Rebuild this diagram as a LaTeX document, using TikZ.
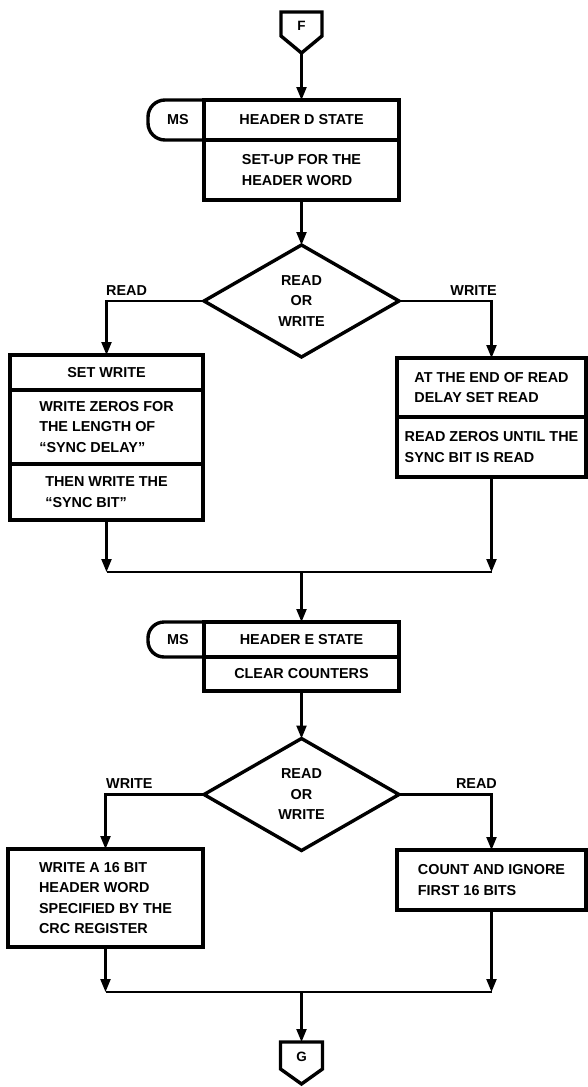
\documentclass[tikz,border=0pt]{standalone}
\usepackage{fontspec}
\setmainfont{Liberation Sans}
\usepackage{tikz}
\usetikzlibrary{shapes,arrows.meta}
\usetikzlibrary{calc}

\begin{document}
\begin{tikzpicture}[x=1pt,y=-1pt]
  % Styles
  \tikzstyle{flow font}=[font=\bfseries\fontsize{14.4}{20.5}\selectfont]
  \tikzstyle{box line}=[line width=3.4pt,line join=miter]
  \tikzstyle{state box}=[draw,box line,rectangle,inner sep=0pt,outer sep=0pt,align=left,flow font]
  \tikzstyle{decision}=[draw,box line,diamond,aspect=1.7,inner sep=0pt,outer sep=0pt,
    align=center,flow font,minimum width=195pt,minimum height=112pt]
  \tikzstyle{flow line}=[line width=2.2pt]
  \tikzstyle{flow arrow}=[flow line,-{Triangle[width=10pt,length=13pt]}]
  \tikzstyle{branch text}=[flow font,inner sep=0pt]
  \tikzstyle{page text}=[font=\bfseries\fontsize{13.5}{15}\selectfont,inner sep=0pt]

  \useasboundingbox (0,0) rectangle (587,1087);

  % Connector F
  \coordinate (Ftip) at (301.5,53);
  \draw[box line] (281,12) -- (322,12) -- (322,36) -- (Ftip) -- (281,36) -- cycle;
  \node[page text] (F) at (301.5,26) {F};

  % Header D state
  \node[state box,minimum width=195pt,minimum height=40pt,align=center] (hdD) at (301.5,120) {HEADER D STATE};
  \node[state box,minimum width=195pt,minimum height=60pt] (hdDset) at (301.5,170) {SET-UP FOR THE\\HEADER WORD};
  \node[branch text] (msD) at (178,120) {MS};
  \draw[box line,rounded corners=17pt] (hdD.north west) -- ++(-56,0) -- ++(0,40) -- (hdD.south west);

  \node[decision] (dec1) at (301.5,301) {READ\\OR\\WRITE};

  % read side
  \node[state box,minimum width=193pt,minimum height=35pt,align=center] (setw) at (106.5,372.5) {SET WRITE};
  \node[state box,minimum width=193pt,minimum height=74pt] (zeros) at (106.5,427) {WRITE ZEROS FOR\\THE LENGTH OF\\``SYNC DELAY''};
  \node[state box,minimum width=193pt,minimum height=56pt] (thenw) at (106.5,492) {THEN WRITE THE\\``SYNC BIT''};
  % write side
  \node[state box,minimum width=189pt,minimum height=59pt] (atend) at (491.5,387.5) {AT THE END OF READ\\DELAY SET READ};
  \node[state box,minimum width=189pt,minimum height=60pt] (readz) at (491.5,447) {READ ZEROS UNTIL THE\\SYNC BIT IS READ};

  \node[branch text,anchor=base west] (lblReadA) at (106,295) {READ};
  \node[branch text,anchor=base east] (lblWriteA) at (497,295) {WRITE};

  % Header E state
  \node[state box,minimum width=195pt,minimum height=35pt,align=center] (hdE) at (301.5,639.5) {HEADER E STATE};
  \node[state box,minimum width=195pt,minimum height=34pt,align=center] (hdEclr) at (301.5,674) {CLEAR COUNTERS};
  \node[branch text] (msE) at (178,639.5) {MS};
  \draw[box line,rounded corners=16pt] (hdE.north west) -- ++(-56,0) -- ++(0,35) -- (hdE.south west);

  \node[decision] (dec2) at (301.5,794.5) {READ\\OR\\WRITE};

  \node[state box,minimum width=195pt,minimum height=98pt] (wr16) at (105.5,898) {WRITE A 16 BIT\\HEADER WORD\\SPECIFIED BY THE\\CRC REGISTER};
  \node[state box,minimum width=189pt,minimum height=60pt] (count) at (491.5,880) {COUNT AND IGNORE\\FIRST 16 BITS};

  \node[branch text,anchor=base west] (lblWriteB) at (106,788) {WRITE};
  \node[branch text,anchor=base east] (lblReadB) at (497,788) {READ};

  % Connector G
  \coordinate (Gtop) at (301.5,1042);
  \draw[box line] (280.5,1042) -- (322.5,1042) -- (322.5,1069) -- (301.5,1084) -- (280.5,1069) -- cycle;
  \node[page text] (G) at (301.5,1057) {G};

  % The flow lines
  \draw[flow arrow] (Ftip) -- (hdD.north);
  \draw[flow arrow] (hdDset.south) -- (dec1.north);
  \draw[flow arrow] (dec1.west) -| (setw.north);
  \draw[flow arrow] (dec1.east) -| (atend.north);

  \coordinate (join1) at (301.5,572);
  \draw[flow arrow] (thenw.south) -- (thenw.south |- join1);
  \draw[flow arrow] (readz.south) -- (readz.south |- join1);
  \draw[flow line] (thenw.south |- join1) -- (readz.south |- join1);
  \draw[flow arrow] (join1) -- (hdE.north);

  \draw[flow arrow] (hdEclr.south) -- (dec2.north);
  \draw[flow arrow] (dec2.west) -| (wr16.north);
  \draw[flow arrow] (dec2.east) -| (count.north);

  \coordinate (join2) at (301.5,992);
  \draw[flow arrow] (wr16.south) -- (wr16.south |- join2);
  \draw[flow arrow] (count.south) -- (count.south |- join2);
  \draw[flow line] (wr16.south |- join2) -- (count.south |- join2);
  \draw[flow arrow] (join2) -- (Gtop);
\end{tikzpicture}
\end{document}
